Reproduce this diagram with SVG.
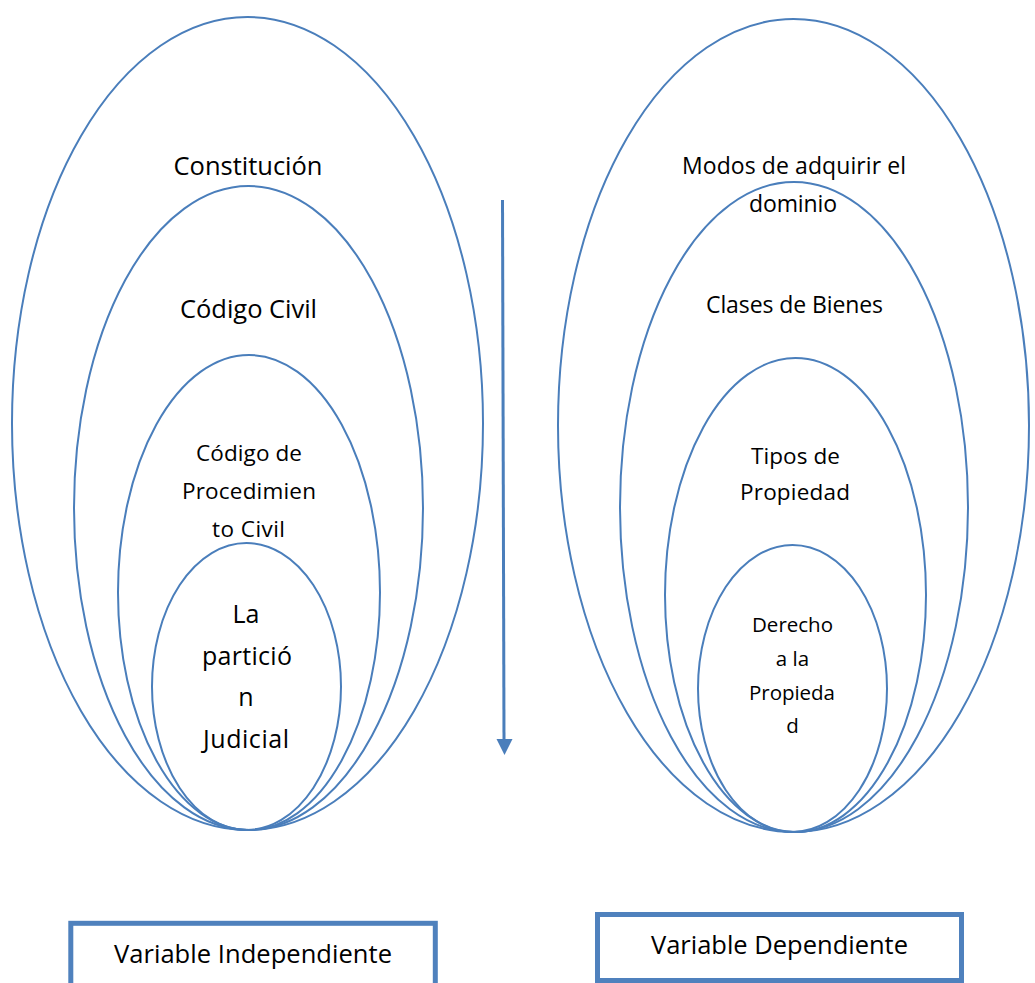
<svg xmlns="http://www.w3.org/2000/svg" width="1035" height="983" viewBox="0 0 1035 983">
<style>
.e{fill:none;stroke:#4A7EBB;stroke-width:2}
.t{font-family:"Open Sans","Liberation Sans",sans-serif;fill:#000;text-anchor:middle}
.b{fill:none;stroke:#4F81BD;stroke-width:5}
</style>
<rect width="1035" height="983" fill="#fff"/>
<g id="constitucion"><ellipse class="e" cx="247.5" cy="423.5" rx="235.5" ry="406.5"/><text class="t" x="248" y="175" font-size="25.5" textLength="149">Constitución</text></g>
<g id="codigo-civil"><ellipse class="e" cx="248.5" cy="508" rx="174.5" ry="322"/><text class="t" x="248.5" y="318" font-size="25.5" textLength="137">Código Civil</text></g>
<g id="codigo-procedimiento"><ellipse class="e" cx="249" cy="592.5" rx="131" ry="237.5"/><text class="t" font-size="22.5"><tspan x="249" y="461" textLength="106">Código de</tspan><tspan x="249" y="499" textLength="134">Procedimien</tspan><tspan x="248.5" y="537" textLength="73">to Civil</tspan></text></g>
<g id="particion"><ellipse class="e" cx="246.5" cy="686.5" rx="94.5" ry="143.5"/><text class="t" font-size="25"><tspan x="246" y="623">La</tspan><tspan x="247" y="665" textLength="90">partició</tspan><tspan x="246" y="706">n</tspan><tspan x="246" y="748" textLength="86">Judicial</tspan></text></g>
<g id="modos"><ellipse class="e" cx="793.5" cy="425.5" rx="235.5" ry="406.5"/><text class="t" font-size="23"><tspan x="794" y="174" textLength="224">Modos de adquirir el</tspan><tspan x="793" y="212" textLength="88">dominio</tspan></text></g>
<g id="clases"><ellipse class="e" cx="794" cy="507" rx="174" ry="325"/><text class="t" x="794.5" y="313" font-size="23" textLength="177">Clases de Bienes</text></g>
<g id="tipos"><ellipse class="e" cx="795.5" cy="595" rx="130.5" ry="237"/><text class="t" font-size="22.5"><tspan x="795.5" y="464" textLength="89">Tipos de</tspan><tspan x="795" y="500" textLength="110">Propiedad</tspan></text></g>
<g id="derecho"><ellipse class="e" cx="792.5" cy="688.5" rx="94.5" ry="143.5"/><text class="t" font-size="20.5"><tspan x="792.5" y="632" textLength="81">Derecho</tspan><tspan x="792.5" y="666">a la</tspan><tspan x="792" y="700" textLength="86">Propieda</tspan><tspan x="792.5" y="733">d</tspan></text></g>
<g id="connectors"><line x1="502.5" y1="200" x2="504" y2="741" stroke="#4A7EBB" stroke-width="3"/><polygon points="496.5,739 512.5,739 504.5,755" fill="#4A7EBB"/></g>
<g id="var-independiente"><rect class="b" x="70.8" y="923.3" width="364.5" height="80"/><text class="t" x="253" y="963" font-size="25.5" textLength="278">Variable Independiente</text></g>
<g id="var-dependiente"><rect class="b" x="597.5" y="914.5" width="364" height="66"/><text class="t" x="779.5" y="954" font-size="25.5" textLength="257">Variable Dependiente</text></g>
</svg>
